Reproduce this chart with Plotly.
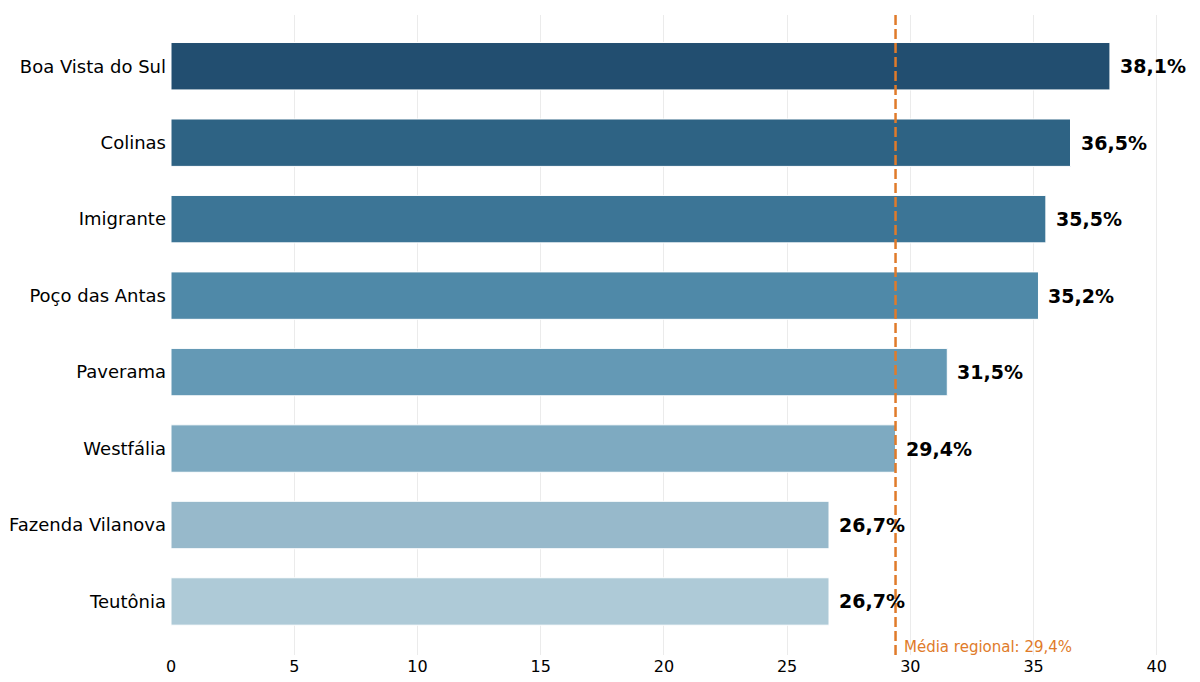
import plotly.graph_objects as go

# dados (ordem de baixo para cima)
municipios = ['Teutônia', 'Fazenda Vilanova', 'Westfália', 'Paverama',
              'Poço das Antas', 'Imigrante', 'Colinas', 'Boa Vista do Sul']
percentuais = [26.7, 26.7, 29.4, 31.5, 35.2, 35.5, 36.5, 38.1]
cores = ['#aecad7', '#97b9cb', '#7eaac1', '#6499b5',
         '#4f89a8', '#3c7596', '#2e6384', '#224e70']
media_regional = 29.4
x_ticks = [0, 5, 10, 15, 20, 25, 30, 35, 40]

rotulos = [f'{v:.1f}%'.replace('.', ',') for v in percentuais]

fig = go.Figure()
fig.add_trace(go.Bar(
    x=percentuais, y=municipios, orientation='h',
    marker=dict(color=cores, line=dict(color='white', width=1)),
    width=0.62,
    hoverinfo='skip'
))

# rótulos de valor à direita das barras
for m, v, r in zip(municipios, percentuais, rotulos):
    fig.add_annotation(
        x=v, y=m, text=f'<b>{r}</b>', showarrow=False,
        xanchor='left', xshift=8, yanchor='middle',
        font=dict(family='DejaVu Sans', size=19, color='black')
    )

fig.add_vline(x=media_regional, line=dict(color='#e07b2a', width=2.5, dash='10px,4px'))
fig.add_annotation(
    x=media_regional, y=-0.6, xref='x', yref='y',
    text=f'Média regional: {media_regional:.1f}%'.replace('.', ','),
    showarrow=False, xanchor='left', xshift=6, yanchor='middle',
    font=dict(family='DejaVu Sans', size=15, color='#e07b2a')
)

fig.update_layout(
    width=1200, height=682,
    margin=dict(l=163, r=50, t=7, b=35),
    plot_bgcolor='white', paper_bgcolor='white',
    showlegend=False,
    font=dict(family='DejaVu Sans', color='black'),
)
fig.update_xaxes(range=[0, 40.05], tickvals=x_ticks, showgrid=True,
                 gridcolor='#ebebeb', gridwidth=1, zeroline=False,
                 tickfont=dict(size=16), ticks='', ticklen=0)
fig.update_yaxes(range=[-0.7, 7.67], tickfont=dict(size=18), showgrid=False,
                 ticks='', ticklabelstandoff=4, automargin=False)

fig.write_html('out.html')
